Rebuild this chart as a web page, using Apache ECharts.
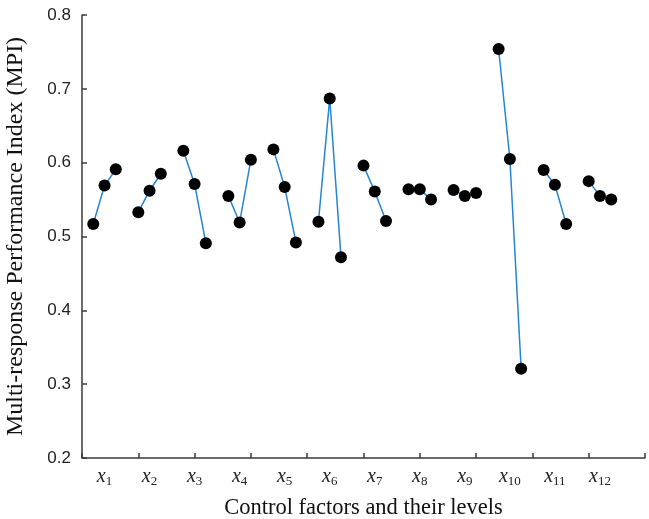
<!DOCTYPE html>
<html>
<head>
<meta charset="utf-8">
<script src="https://cdn.jsdelivr.net/npm/echarts@6/dist/echarts.min.js"></script>
<style>html,body{margin:0;padding:0;background:#fff;}#chart{width:649px;height:519px;}</style>
</head>
<body>
<div id="chart"></div>
<script>
// Factor names (subscript of x) and MPI values for levels 1..3
const factorSubs = ['1','2','3','4','5','6','7','8','9','10','11','12'];
const x1 = [0.517, 0.569, 0.591];
const x2 = [0.533, 0.562, 0.585];
const x3 = [0.616, 0.571, 0.491];
const x4 = [0.555, 0.519, 0.604];
const x5 = [0.618, 0.567, 0.492];
const x6 = [0.520, 0.687, 0.472];
const x7 = [0.596, 0.561, 0.521];
const x8 = [0.564, 0.564, 0.550];
const x9 = [0.563, 0.555, 0.559];
const x10 = [0.754, 0.605, 0.321];
const x11 = [0.590, 0.570, 0.517];
const x12 = [0.575, 0.555, 0.550];
const groups = [x1, x2, x3, x4, x5, x6, x7, x8, x9, x10, x11, x12];
const yTicks = [0.2, 0.3, 0.4, 0.5, 0.6, 0.7, 0.8];

// slots: each factor takes 4 slots (3 levels + gap), axis spans 0..50
const slotCount = 51;
const cats = [];
for (let i = 0; i < slotCount; i++) cats.push('');
factorSubs.forEach((s, g) => { cats[4 * g + 2] = s; });

const series = groups.map((vals, g) => ({
  type: 'line',
  data: vals.map((v, l) => [4 * g + 1 + l, v]),
  symbol: 'circle',
  symbolSize: 12,
  itemStyle: { color: '#000' },
  lineStyle: { color: '#2585d5', width: 1.5 },
  emphasis: { disabled: true },
  animation: false
}));

const chart = echarts.init(document.getElementById('chart'));
chart.setOption({
  backgroundColor: '#fff',
  animation: false,
  grid: { left: 82, right: 4, top: 15, bottom: 61, containLabel: false, outerBoundsMode: 'none' },
  xAxis: {
    type: 'category',
    data: cats,
    boundaryGap: false,
    axisLine: { lineStyle: { color: '#3a3a3a', width: 1.5 } },
    axisTick: { inside: true, length: 5, interval: (i) => i % 5 === 0, lineStyle: { color: '#3a3a3a', width: 1.5 } },
    axisLabel: {
      interval: 0,
      margin: 8,
      formatter: (v) => v ? '{x|x}{s|' + v + '}' : '',
      rich: {
        x: { fontFamily: 'Liberation Serif', fontStyle: 'italic', fontSize: 20, color: '#222', lineHeight: 22, verticalAlign: 'middle' },
        s: { fontFamily: 'Liberation Serif', fontSize: 13, color: '#222', verticalAlign: 'bottom', lineHeight: 22 }
      }
    },
    splitLine: { show: false },
    name: 'Control factors and their levels',
    nameLocation: 'middle',
    nameGap: 39,
    nameTextStyle: { fontFamily: 'Liberation Serif', fontSize: 22.5, color: '#111' }
  },
  yAxis: {
    type: 'value',
    min: 0.2,
    max: 0.8,
    interval: 0.1,
    axisLine: { show: true, lineStyle: { color: '#3a3a3a', width: 1.5 } },
    axisTick: { show: true, inside: true, length: 5, lineStyle: { color: '#3a3a3a', width: 1.5 } },
    axisLabel: {
      margin: 11,
      formatter: (v) => v.toFixed(1),
      fontFamily: 'Liberation Sans',
      fontSize: 17,
      color: '#222'
    },
    splitLine: { show: false },
    name: 'Multi-response Performance Index (MPI)',
    nameLocation: 'middle',
    nameGap: 54,
    nameTextStyle: { fontFamily: 'Liberation Serif', fontSize: 24, color: '#111' }
  },
  series: series
});
</script>
</body>
</html>
